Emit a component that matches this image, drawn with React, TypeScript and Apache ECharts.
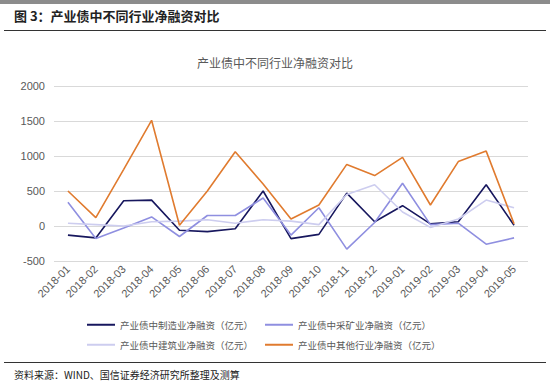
import React, { useEffect, useRef } from "react";
import * as echarts from "echarts";

const months = [
  "2018-01", "2018-02", "2018-03", "2018-04", "2018-05", "2018-06", "2018-07", "2018-08", "2018-09",
  "2018-10", "2018-11", "2018-12", "2019-01", "2019-02", "2019-03", "2019-04", "2019-05",
];
const manufacturing = [-130, -170, 360, 370, -60, -80, -40, 500, -180, -120, 470, 60, 290, 30, 60, 590, 10];
const mining = [340, -180, -30, 130, -150, 150, 150, 400, -130, 260, -330, 50, 610, 20, 40, -260, -170];
const construction = [40, 20, 0, 60, 70, 90, 40, 90, 70, 20, 450, 590, 200, -20, 100, 370, 260];
const others = [500, 120, 810, 1510, 10, 500, 1060, 600, 100, 300, 880, 720, 980, 300, 920, 1070, 30];

const seriesNames = [
  "产业债中制造业净融资（亿元）",
  "产业债中采矿业净融资（亿元）",
  "产业债中建筑业净融资（亿元）",
  "产业债中其他行业净融资（亿元）",
];
const seriesData = [manufacturing, mining, construction, others];
const colors = ["#17175e", "#8f8fe0", "#cdcdef", "#e07b2f"];

const FONT = "'Noto Sans CJK SC', 'Noto Sans', sans-serif";

export default function App() {
  const ref = useRef<HTMLDivElement>(null);
  useEffect(() => {
    if (!ref.current) return;
    const chart = echarts.init(ref.current, null, { renderer: "svg" });
    const legendCommon = {
      left: 82,
      itemWidth: 28,
      itemHeight: 10,
      itemGap: 12,
      icon: "path://M0,4 L28,4 L28,6 L0,6 Z",
      textStyle: { fontSize: 9.5, color: "#595959", fontFamily: FONT },
    };
    chart.setOption({
      animation: false,
      backgroundColor: "#ffffff",
      color: colors,
      textStyle: { fontFamily: FONT },
      title: {
        text: "产业债中不同行业净融资对比",
        left: "center",
        top: 51,
        textStyle: { fontSize: 12, fontWeight: "normal", color: "#595959", fontFamily: FONT },
      },
      legend: [
        { ...legendCommon, top: 315, data: seriesNames.slice(0, 2).map((n, i) => ({ name: n, itemStyle: { color: colors[i] } })) },
        { ...legendCommon, top: 335, data: seriesNames.slice(2, 4).map((n, i) => ({ name: n, itemStyle: { color: colors[i + 2] } })) },
      ],
      grid: { left: 54, right: 22, top: 86, bottom: 125, containLabel: false },
      xAxis: {
        type: "category",
        data: months,
        boundaryGap: true,
        axisLine: { show: false },
        axisTick: { show: false },
        axisLabel: { rotate: 45, fontSize: 11, color: "#595959", margin: 6, interval: 0, fontFamily: "Liberation Sans, Arial, sans-serif" },
      },
      yAxis: {
        type: "value",
        min: -500,
        max: 2000,
        interval: 500,
        axisLine: { show: false },
        axisTick: { show: false },
        axisLabel: {
          fontSize: 11,
          color: "#595959",
          margin: 9,
          fontFamily: "Liberation Sans, Arial, sans-serif",
          formatter: (v: number) => String(v),
        },
        splitLine: { lineStyle: { color: "#d9d9d9", width: 1 } },
      },
      series: seriesData.map((d, i) => ({
        name: seriesNames[i],
        type: "line",
        data: d,
        symbol: "none",
        lineStyle: { width: 1.6, color: colors[i] },
        itemStyle: { color: colors[i] },
      })),
      graphic: [
        { type: "rect", shape: { x: 0, y: 0, width: 550, height: 4 }, style: { fill: "#8c8c8c" } },
        {
          type: "text",
          x: 14,
          y: 9,
          style: { text: "图 3：产业债中不同行业净融资对比", fontSize: 13, fontWeight: "bold", fill: "#222222", fontFamily: FONT },
        },
        { type: "line", shape: { x1: 4, y1: 30.5, x2: 546, y2: 30.5 }, style: { stroke: "#333333", lineWidth: 1 } },
        { type: "line", shape: { x1: 4, y1: 362.5, x2: 546, y2: 362.5 }, style: { stroke: "#333333", lineWidth: 1 } },
        {
          type: "text",
          x: 14,
          y: 369,
          style: { text: "资料来源：WIND、国信证券经济研究所整理及测算", fontSize: 10, fill: "#222222", fontFamily: FONT },
        },
      ],
    });
    return () => chart.dispose();
  }, []);
  return (
    <div
      ref={ref}
      style={{ position: "fixed", left: 0, top: 0, width: 550, height: 386, background: "#fff" }}
    />
  );
}
